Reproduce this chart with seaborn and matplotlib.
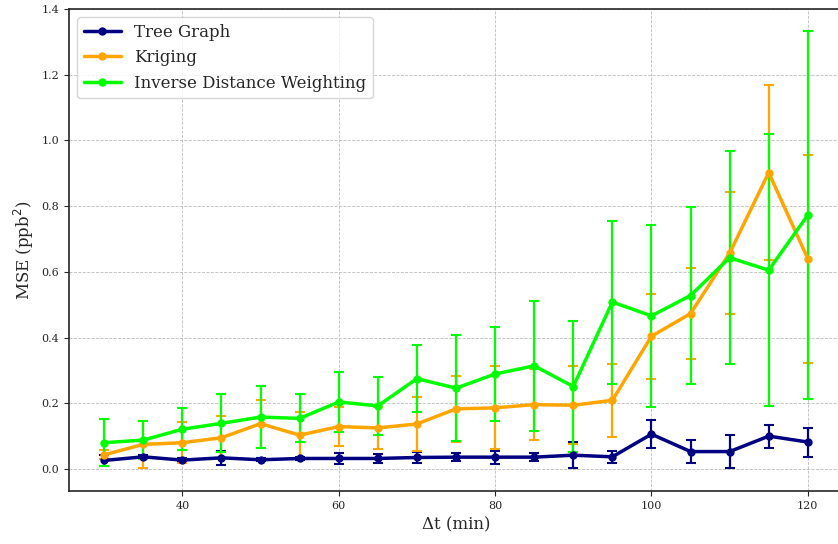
import numpy as np
import pandas as pd
import matplotlib
matplotlib.use("Agg")
import matplotlib.pyplot as plt
import seaborn as sns

dt = [30, 35, 40, 45, 50, 55, 60, 65, 70, 75, 80, 85, 90, 95, 100, 105, 110, 115, 120]

tree_mse = [0.026, 0.037, 0.027, 0.034, 0.028, 0.032, 0.032, 0.032, 0.035, 0.036, 0.036, 0.036, 0.042, 0.037, 0.106, 0.053, 0.053, 0.100, 0.082]
tree_err = [0.016, 0.006, 0.006, 0.021, 0.005, 0.006, 0.016, 0.013, 0.016, 0.013, 0.020, 0.012, 0.040, 0.018, 0.043, 0.035, 0.051, 0.035, 0.044]

krig_mse = [0.043, 0.075, 0.080, 0.095, 0.138, 0.103, 0.129, 0.125, 0.137, 0.183, 0.186, 0.196, 0.194, 0.209, 0.404, 0.473, 0.657, 0.902, 0.640]
krig_err = [0.014, 0.072, 0.062, 0.066, 0.073, 0.070, 0.060, 0.063, 0.083, 0.100, 0.126, 0.107, 0.118, 0.112, 0.130, 0.138, 0.186, 0.267, 0.317]

idw_mse = [0.080, 0.088, 0.121, 0.139, 0.158, 0.154, 0.204, 0.192, 0.275, 0.246, 0.289, 0.314, 0.251, 0.508, 0.466, 0.528, 0.643, 0.605, 0.773]
idw_err = [0.071, 0.059, 0.064, 0.088, 0.095, 0.073, 0.091, 0.089, 0.103, 0.161, 0.142, 0.197, 0.199, 0.248, 0.277, 0.268, 0.324, 0.414, 0.561]

labels = ["Tree Graph", "Kriging", "Inverse Distance Weighting"]
colors = ["#000080", "#FFA500", "#00FF00"]

sns.set_style("ticks")
plt.rcParams["font.family"] = ["DejaVu Serif"]

fig = plt.figure(figsize=(8.38, 5.44), dpi=100)
ax = fig.add_axes([69 / 838, 1 - 491 / 544, (843 - 69) / 838, (491 - 9) / 544])

series = [(tree_mse, tree_err), (krig_mse, krig_err), (idw_mse, idw_err)]
for (m, e), lab, c in zip(series, labels, colors):
    df = pd.DataFrame({"dt": dt, "mse": m})
    ax.errorbar(dt, m, yerr=e, fmt="none", ecolor=c, elinewidth=1.6, capsize=3.5, capthick=1.5, zorder=2)
    sns.lineplot(data=df, x="dt", y="mse", ax=ax, color=c, linewidth=2.5, marker="o",
                 markersize=6, markeredgewidth=0, label=lab, errorbar=None, zorder=3)

ax.set_xlim(25.5, 124.5)
ax.set_ylim(-0.067, 1.4)
ax.set_xticks([40, 60, 80, 100, 120])
ax.set_yticks(np.arange(0, 1.41, 0.2))
ax.tick_params(labelsize=8)
ax.grid(True, linestyle="--", linewidth=0.6, color="#bbbbbb")
ax.set_xlabel("Δt (min)", fontsize=12)
ax.set_ylabel("MSE (ppb$^2$)", fontsize=12)
for s in ax.spines.values():
    s.set_linewidth(1.2)
leg = ax.legend(loc="upper left", fontsize=12, handlelength=2.2)

fig.savefig("out.png", dpi=100)
